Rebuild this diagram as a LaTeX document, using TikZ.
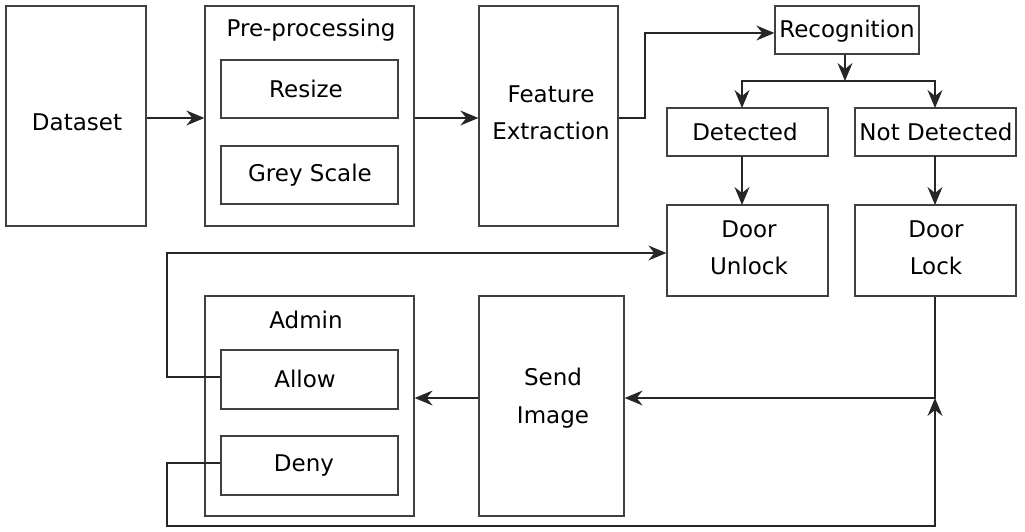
\documentclass[tikz,border=0pt]{standalone}
\usepackage{fontspec}
\setmainfont{DejaVu Sans}
\usetikzlibrary{arrows.meta}
\begin{document}
\begin{tikzpicture}[x=1pt,y=-1pt,
  box/.style={draw=black!75,line width=1.3pt,fill=white,inner sep=0pt},
  txt/.style={font=\fontsize{23}{37.5}\selectfont,align=center,inner sep=0pt},
  conn/.style={draw=black!85,line width=1.3pt},
  arr/.style={conn,-{Stealth[length=18pt,width=15pt,inset=6pt]}}]
\useasboundingbox (0,0) rectangle (1025,532);
% top row
\node[box,minimum width=140,minimum height=220] (ds) at (76,116) {};
\node[txt] (dst) at (77,122) {Dataset};
\node[box,minimum width=209,minimum height=220] (pre) at (309.5,116) {};
\node[txt] (pret) at (311,30) {Pre-processing};
\node[box,minimum width=177,minimum height=58] (rs) at (309.5,89) {};
\node[txt] (rst) at (306,89) {Resize};
\node[box,minimum width=177,minimum height=58] (gs) at (309.5,175) {};
\node[txt] (gst) at (310,175) {Grey Scale};
\node[box,minimum width=139,minimum height=220] (fe) at (548.5,116) {};
\node[txt] (fet) at (551,113) {Feature\\Extraction};
\node[box,minimum width=144,minimum height=48] (rec) at (847,30) {};
\node[txt] (rect) at (847,31) {Recognition};
\node[box,minimum width=161,minimum height=48] (det) at (747.5,132) {};
\node[txt] (dett) at (745,132) {Detected};
\node[box,minimum width=161,minimum height=48] (nd) at (935.5,132) {};
\node[txt] (ndt) at (936,132) {Not Detected};
\node[box,minimum width=161,minimum height=91] (du) at (747.5,250.5) {};
\node[txt] (dut) at (749,248) {Door\\Unlock};
\node[box,minimum width=161,minimum height=91] (dl) at (935.5,250.5) {};
\node[txt] (dlt) at (936,248) {Door\\Lock};
% bottom row
\node[box,minimum width=209,minimum height=220] (adm) at (309.5,406) {};
\node[txt] (admt) at (306,320) {Admin};
\node[box,minimum width=177,minimum height=59] (al) at (309.5,379.5) {};
\node[txt] (alt) at (305,379) {Allow};
\node[box,minimum width=177,minimum height=59] (dn) at (309.5,465.5) {};
\node[txt] (dnt) at (304,466) {Deny};
\node[box,minimum width=145,minimum height=220] (si) at (551.5,406) {};
\node[txt] (sit) at (553,398) {Send\\Image};
% coordinates
\coordinate (split) at (845,81);
\coordinate (j) at (935,398);
% connectors
\draw[arr] (ds.east |- 0,118) -- (pre.west |- 0,118);
\draw[arr] (pre.east |- 0,118) -- (fe.west |- 0,118);
\draw[arr] (fe.east |- 0,118) -- (645,118) -- (645,33) -- (rec.west |- 0,33);
\draw[arr] (rec.south -| split) -- (split);
\draw[arr] (split) -- (742,81) -- (742,108);
\draw[arr] (split) -- (935,81) -- (935,108);
\draw[arr] (742,156) -- (742,205);
\draw[arr] (935,156) -- (935,205);
\draw[arr] (dl.south -| j) -- (j) -- (si.east |- j);
\draw[arr] (si.west |- j) -- (adm.east |- j);
\draw[arr] (al.west |- 0,377) -- (167,377) -- (167,253) -- (du.west |- 0,253);
\draw[arr] (dn.west |- 0,463) -- (167,463) -- (167,526) -- (935,526) -- (j);
\end{tikzpicture}
\end{document}
